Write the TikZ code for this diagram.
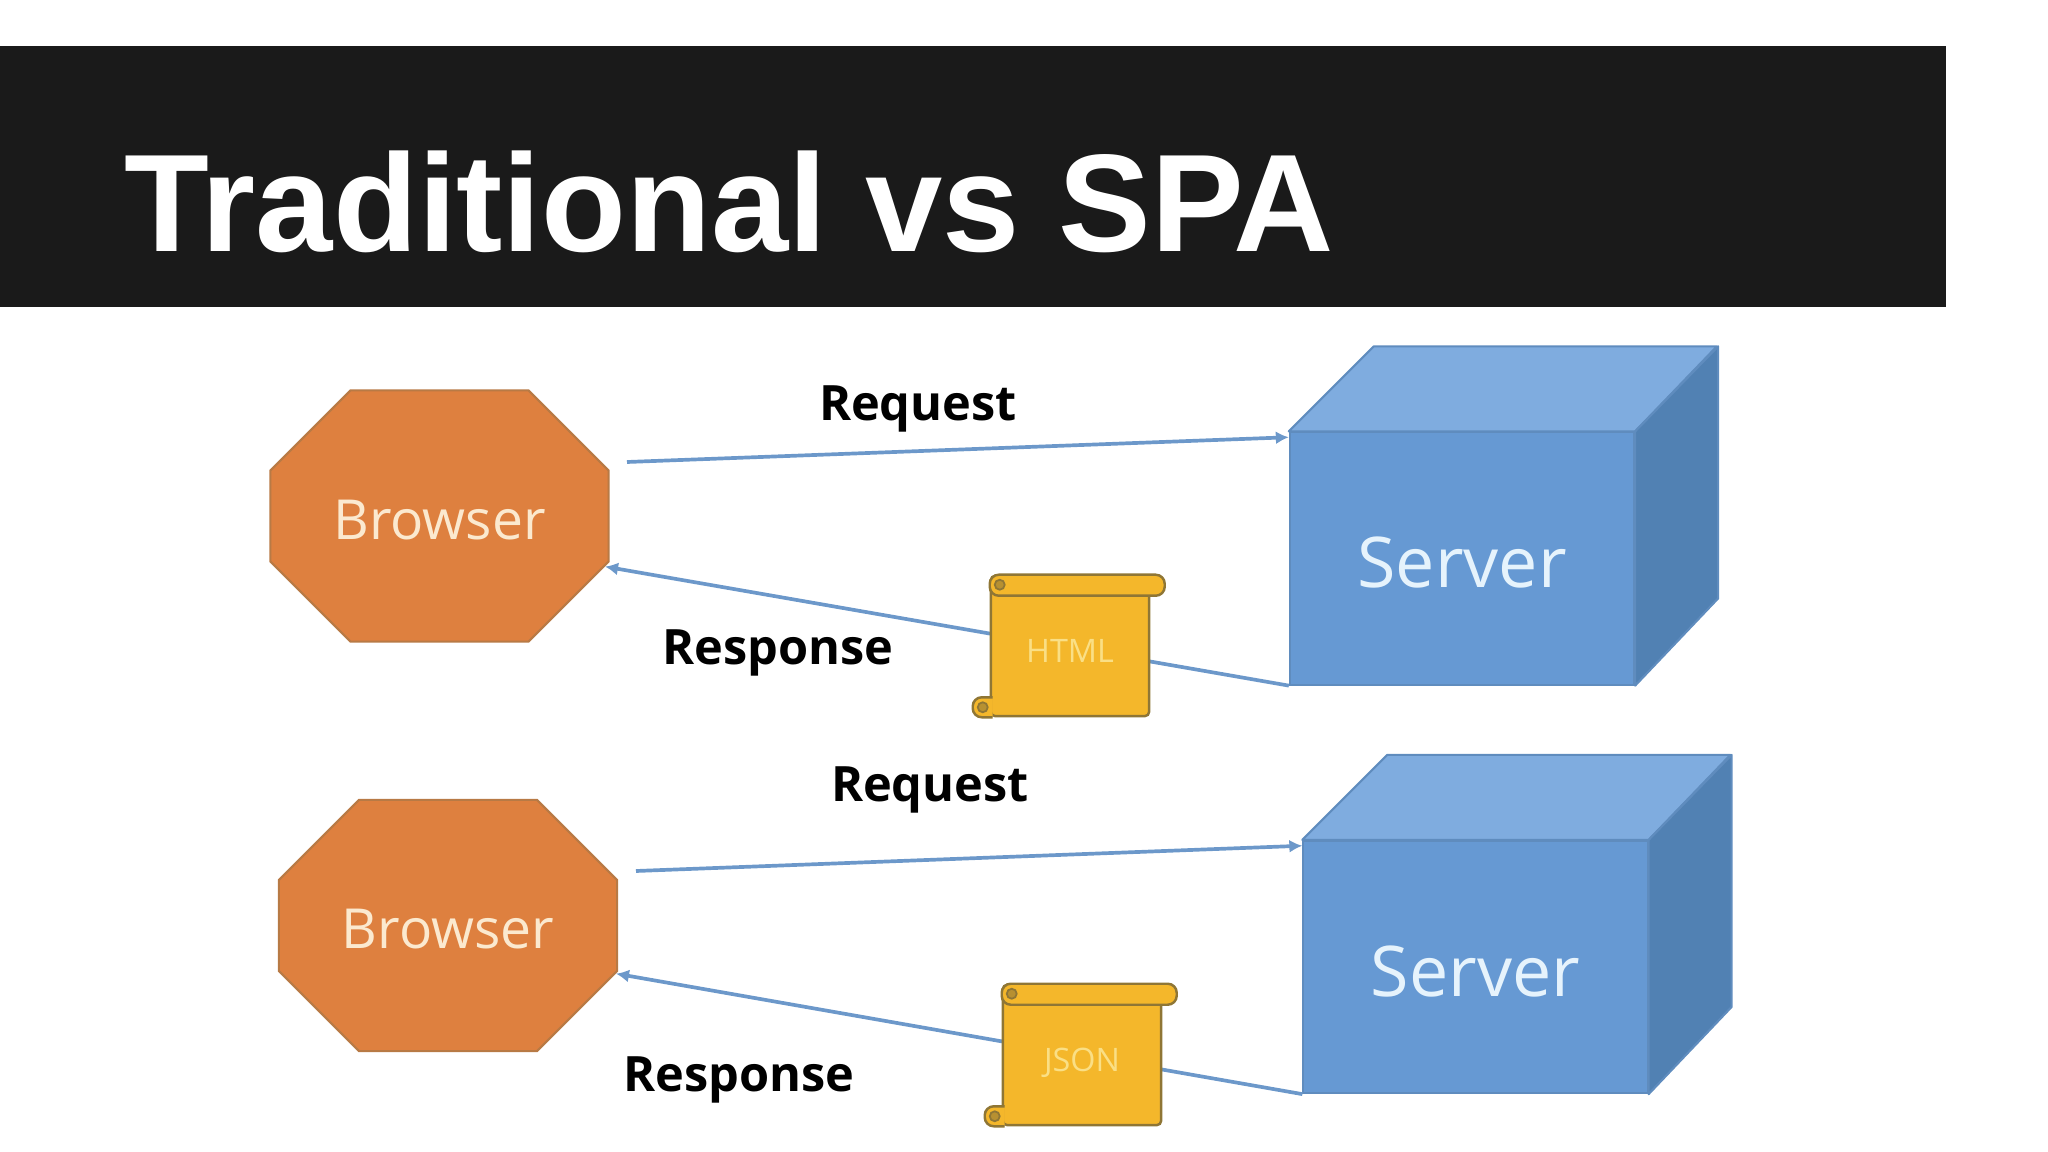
\documentclass[tikz,border=0pt]{standalone}
\usepackage{fontspec}
\setmainfont{Liberation Sans}
\newfontfamily\labelfont{Open Sans}
\usetikzlibrary{arrows.meta,positioning,shapes.misc}
\definecolor{barblack}{HTML}{1A1A1A}
\definecolor{octfill}{HTML}{DE803F}
\definecolor{octedge}{HTML}{B87A45}
\definecolor{cream}{HTML}{FBE9CF}
\definecolor{frontblue}{HTML}{6699D3}
\definecolor{topblue}{HTML}{7FACDF}
\definecolor{sideblue}{HTML}{5181B3}
\definecolor{edgeblue}{HTML}{5F8CBE}
\definecolor{iceblue}{HTML}{E6F3FC}
\definecolor{flowblue}{HTML}{6C98CA}
\definecolor{scrollfill}{HTML}{F4B72B}
\definecolor{scrolledge}{HTML}{8F7635}
\definecolor{scrolltext}{HTML}{FADF85}
\tikzset{
	titlebar/.style={fill=barblack,minimum width=19.45cm,minimum height=2.61cm,inner sep=0pt},
	heading/.style={anchor=base west,inner sep=0pt,white,font=\fontsize{39.5}{39.5}\selectfont\bfseries},
	browser/.style={chamfered rectangle,chamfered rectangle xsep=0.56cm,chamfered rectangle ysep=0.56cm,draw=octedge,fill=octfill,line width=0.6pt,minimum width=3.38cm,minimum height=2.51cm,inner sep=0pt,text=cream,text height=13.5pt,font=\labelfont\fontsize{15.7}{15.7}\selectfont},
	server/.style={draw=edgeblue,fill=frontblue,line width=0.6pt,minimum width=3.44cm,minimum height=2.52cm,inner sep=0pt,text=iceblue,text height=16.9pt,font=\labelfont\fontsize{19.9}{19.9}\selectfont},
	cubetop/.style={draw=edgeblue,fill=topblue,line width=0.6pt,line join=round},
	cubeside/.style={draw=edgeblue,fill=sideblue,line width=0.6pt,line join=round},
	flow/.style={-{Latex[length=0.13cm,width=0.13cm]},draw=flowblue,line width=1.05pt},
	msg/.style={font=\labelfont\fontsize{13.85}{13.85}\selectfont\bfseries,inner sep=0pt},
	scroll/.style={draw=scrolledge,fill=scrollfill,line width=0.7pt,rounded corners=0.04cm,minimum width=1.58cm,minimum height=1.4cm,inner sep=0pt,text=scrolltext,text height=9.4pt,text depth=0pt,font=\labelfont\fontsize{9.2}{9.2}\selectfont},
	roll/.style={draw=scrolledge,fill=scrollfill,line width=0.7pt,rounded corners=0.09cm},
	curl/.style={draw=scrolledge,fill=scrolledge!60!scrollfill,line width=0.5pt}
}

\begin{document}
\begin{tikzpicture}[x=0.01cm,y=-0.01cm]
	\useasboundingbox (0,0) rectangle (2048,1152);
	\node[titlebar] (bar) at (972.5,176.5) {};
	\node[heading] (title) at (124,252) {Traditional vs SPA};

	% first row
	\node[browser] (browser1) at (439.5,516) {Browser};
	\node[server] (server1) at (1462,558.5) {Server};
	\draw[cubetop] (server1.north west) -- ++(85,-85) -- ++(343,0) -- (server1.north east) -- cycle;
	\draw[cubeside] (server1.north east) -- ++(83,-85) -- ++(0,252) -- (server1.south east) -- cycle;
	\coordinate (reqfrom1) at (627,462);
	\draw[flow] (reqfrom1) -- (server1.145.2);
	\draw[flow] (server1.south west) -- (browser1.-17);
	\node[scroll] (html1) at (1070,646) {HTML};
	\draw[roll] (html1.north west) rectangle ++(175,21);
	\draw[curl] (html1.north west) ++(10,10) circle (5);
	\draw[roll] (html1.south west) ++(3,0) -- ++(-20,0) -- ++(0,-20) -- ++(20,0);
	\draw[curl] (html1.south west) ++(-7,-10) circle (5);
	\node[msg] (req1) at (918,409) {Request};
	\node[msg] (resp1) at (778,653) {Response};

	% second row
	\node[browser] (browser2) at (448,925.5) {Browser};
	\node[server] (server2) at (1475.5,967) {Server};
	\draw[cubetop] (server2.north west) -- ++(85,-85) -- ++(343,0) -- (server2.north east) -- cycle;
	\draw[cubeside] (server2.north east) -- ++(83,-85) -- ++(0,252) -- (server2.south east) -- cycle;
	\coordinate (reqfrom2) at (636,871);
	\draw[flow] (reqfrom2) -- (server2.145);
	\draw[flow] (server2.south west) -- (browser2.-16.5);
	\node[scroll] (json2) at (1082,1055) {JSON};
	\draw[roll] (json2.north west) rectangle ++(175,21);
	\draw[curl] (json2.north west) ++(10,10) circle (5);
	\draw[roll] (json2.south west) ++(3,0) -- ++(-20,0) -- ++(0,-20) -- ++(20,0);
	\draw[curl] (json2.south west) ++(-7,-10) circle (5);
	\node[msg] (req2) at (930,790) {Request};
	\node[msg] (resp2) at (739,1080) {Response};
\end{tikzpicture}
\end{document}
